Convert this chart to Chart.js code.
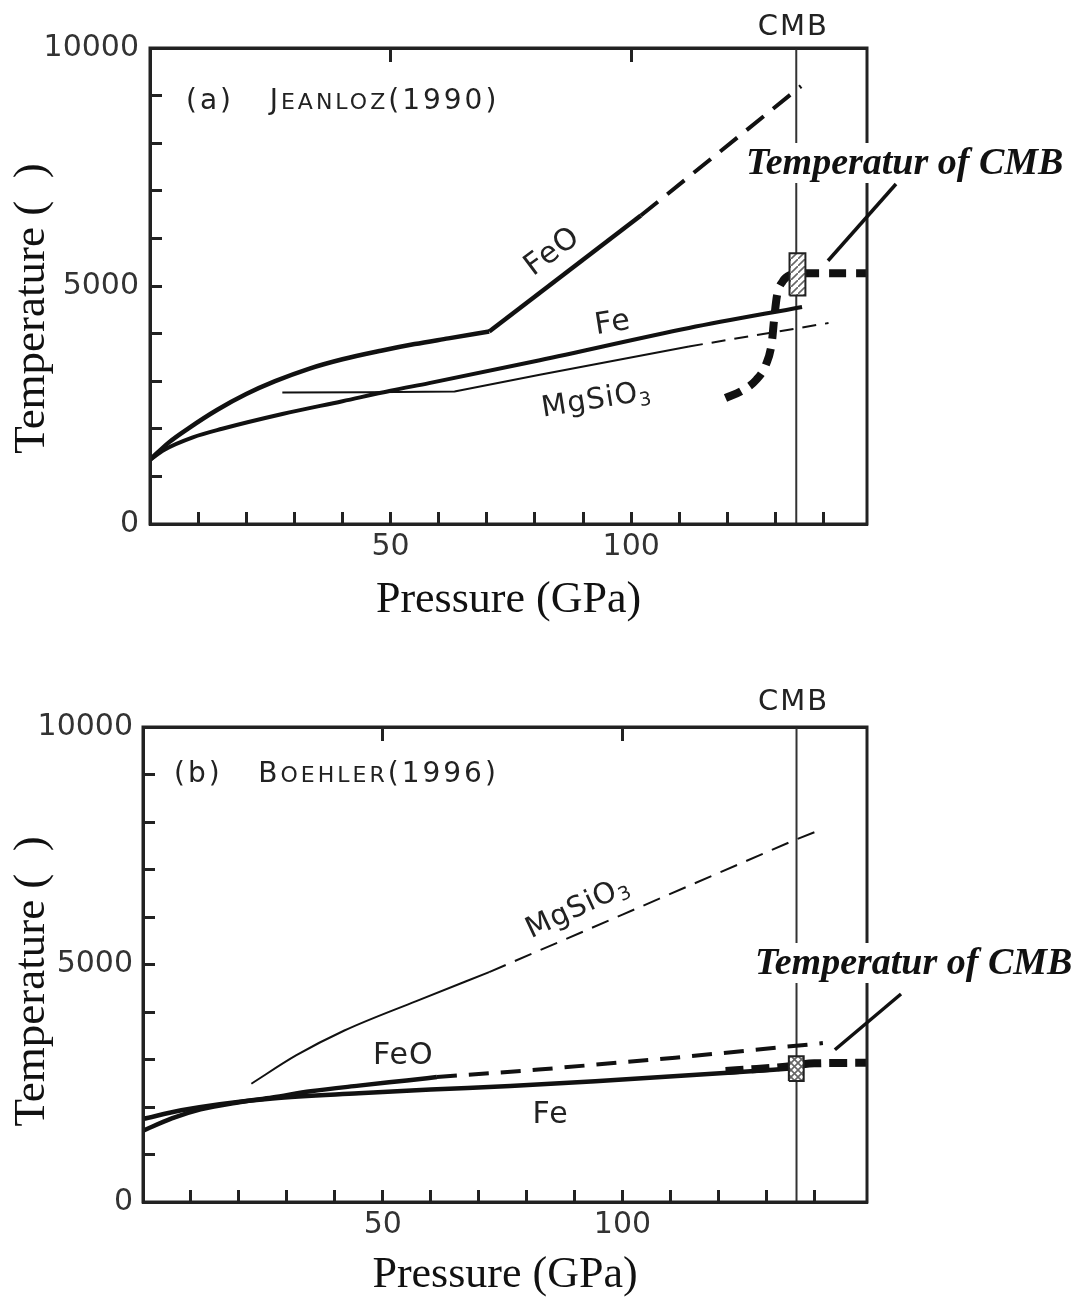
<!DOCTYPE html>
<html>
<head>
<meta charset="utf-8">
<script src="https://cdn.jsdelivr.net/npm/chart.js@4.4.1/dist/chart.umd.min.js"></script>
<style>
  body { margin: 0; background: #fff; }
  #wrap { position: relative; width: 1079px; height: 1302px; }
  canvas { position: absolute; left: 0; }
</style>
</head>
<body>
<div id="wrap">
  <canvas id="chartA" width="1079" height="650" style="top:0"></canvas>
  <canvas id="chartB" width="1079" height="652" style="top:650px"></canvas>
</div>
<script>
// shared axis ticks
const pressureTicks = [0, 10, 20, 30, 40, 50, 60, 70, 80, 90, 100, 110, 120, 130, 140];
const pressureLabels = [50, 100];
const topTicks = [50, 100];
const tempTicks = [0, 1000, 2000, 3000, 4000, 5000, 6000, 7000, 8000, 9000, 10000];
const tempLabels = [0, 5000, 10000];

// (a) Jeanloz (1990)
const aFeO_P = [0, 4, 8, 14, 20, 26, 33, 40, 48, 55, 62, 70.5];
const aFeO_T = [1350, 1720, 2010, 2400, 2730, 3000, 3260, 3460, 3640, 3780, 3900, 4045];
const aFeOSteep_P = [70.5, 102];
const aFeOSteep_T = [4045, 6480];
const aFeODash_P = [102, 135.3];
const aFeODash_T = [6480, 9200];
const aFe_P = [0, 3, 8.9, 15, 27.5, 40, 50, 58, 81, 112, 135.5];
const aFe_T = [1350, 1560, 1820, 2000, 2310, 2580, 2800, 2960, 3440, 4118, 4560];
const aMg_P = [27.5, 45, 63.3, 81, 112];
const aMg_T = [2760, 2770, 2785, 3135, 3730];
const aMgDash_P = [112, 141];
const aMgDash_T = [3730, 4222];
const aGeo_P = [119.6, 123, 126, 128, 129.2, 129.7, 130.3, 131.5, 133, 135.5, 149];
const aGeo_T = [2647, 2800, 3030, 3350, 3800, 4300, 4800, 5100, 5230, 5270, 5270];
const aBox_P = [132.9, 136.2];
const aBox_T = [4800, 5690];
const aCMB = 134.3;

// (b) Boehler (1996)
const bFeO_P = [0, 6, 12, 20, 27, 35, 45, 55, 61.3];
const bFeO_T = [1500, 1760, 1950, 2100, 2200, 2330, 2450, 2560, 2630];
const bFeODash_P = [61.3, 82.5, 111, 141.8];
const bFeODash_T = [2630, 2787, 3037, 3345];
const bFe_P = [0, 8, 16, 27, 45, 60, 76.6, 100, 122, 136.3];
const bFe_T = [1750, 1930, 2060, 2180, 2290, 2370, 2440, 2580, 2720, 2820];
const bMg_P = [22.6, 32, 42, 57, 72.2];
const bMg_T = [2490, 3090, 3610, 4230, 4840];
const bMgDash_P = [72.2, 100, 136.3, 141.7];
const bMgDash_T = [4840, 6050, 7637, 7850];
const bGeo_P = [121.5, 128, 134, 140, 151];
const bGeo_T = [2760, 2800, 2850, 2920, 2930];
const bBox_P = [134.7, 137.8];
const bBox_T = [2550, 3070];
const bCMB = 136.3;

const ink = '#111';

function pts(ps, ts) {
  return ps.map((p, i) => ({ x: p, y: ts[i] }));
}

function curve(data, width, dash, smooth) {
  return {
    data: data,
    showLine: true,
    borderColor: ink,
    backgroundColor: 'transparent',
    borderWidth: width,
    borderDash: dash || [],
    borderCapStyle: 'butt',
    pointRadius: 0,
    fill: false,
    tension: 0,
    cubicInterpolationMode: smooth ? 'monotone' : 'default',
    order: 1
  };
}

function boxSet(ps, ts, pattern) {
  return {
    data: pts([ps[0], ps[1], ps[1], ps[0], ps[0]], [ts[0], ts[0], ts[1], ts[1], ts[0]]),
    showLine: true,
    borderColor: '#222',
    borderWidth: 2,
    backgroundColor: pattern,
    fill: 'shape',
    pointRadius: 0,
    tension: 0,
    order: 0
  };
}

function vline(p) {
  return {
    data: pts([p, p], [0, 10000]),
    showLine: true,
    borderColor: '#333',
    borderWidth: 2,
    pointRadius: 0,
    fill: false,
    order: 3
  };
}

function hatch(ctx, cross) {
  const c = document.createElement('canvas');
  c.width = 7; c.height = 7;
  const g = c.getContext('2d');
  g.fillStyle = '#fff';
  g.fillRect(0, 0, 7, 7);
  g.strokeStyle = '#666';
  g.lineWidth = 1.6;
  g.beginPath();
  g.moveTo(-1, 8); g.lineTo(8, -1);
  if (cross) { g.moveTo(-1, -1); g.lineTo(8, 8); }
  g.stroke();
  return ctx.createPattern(c, 'repeat');
}

function drawRuns(ctx, runs, x, y, rot, align, spacing) {
  ctx.save();
  ctx.translate(x, y);
  ctx.rotate(rot * Math.PI / 180);
  ctx.letterSpacing = (spacing || 0) + 'px';
  let total = 0;
  let maxSize = 0;
  const widths = runs.map(r => {
    ctx.font = r[1] + 'px "DejaVu Sans"';
    const w = ctx.measureText(r[0]).width;
    total += w;
    maxSize = Math.max(maxSize, r[1]);
    return w;
  });
  let cx = align === 'center' ? -total / 2 : 0;
  const base = maxSize * 0.36;
  ctx.textAlign = 'left';
  ctx.textBaseline = 'alphabetic';
  ctx.fillStyle = '#222';
  runs.forEach((r, i) => {
    ctx.font = r[1] + 'px "DejaVu Sans"';
    ctx.fillText(r[0], cx, base + (r[2] || 0));
    cx += widths[i];
  });
  ctx.restore();
}

function decor(spec) {
  return {
    id: 'decor',
    afterDraw(chart) {
      const { ctx, chartArea: a } = chart;
      const sx = chart.scales.x, sy = chart.scales.y;
      ctx.save();
      ctx.strokeStyle = '#222';
      ctx.lineWidth = 3;
      ctx.strokeRect(a.left, a.top, a.right - a.left, a.bottom - a.top);

      ctx.fillStyle = '#222';
      ctx.font = '29px "DejaVu Sans"';
      ctx.letterSpacing = '2px';
      ctx.textAlign = 'center';
      ctx.textBaseline = 'middle';
      ctx.fillText('CMB', sx.getPixelForValue(spec.cmb) - 3, a.top + spec.cmbDy);
      ctx.letterSpacing = '0px';

      drawRuns(ctx, spec.title, a.left + spec.titleDx, a.top + spec.titleDy, 0, 'left', 3);
      spec.labels.forEach(l => drawRuns(ctx, l.runs, sx.getPixelForValue(l.p), sy.getPixelForValue(l.t), l.rot, 'center', 1));

      const c = spec.callout;
      ctx.font = 'italic bold 38px "Liberation Serif"';
      const w = ctx.measureText(c.text).width;
      ctx.fillStyle = '#fff';
      ctx.fillRect(c.x - 4, c.y - 20, w + 8, 40);
      ctx.fillStyle = ink;
      ctx.textAlign = 'left';
      ctx.textBaseline = 'middle';
      ctx.fillText(c.text, c.x, c.y + 1);
      ctx.strokeStyle = ink;
      ctx.lineWidth = 3.5;
      ctx.beginPath();
      ctx.moveTo(c.fromX, c.fromY);
      ctx.lineTo(sx.getPixelForValue(c.toP), sy.getPixelForValue(c.toT));
      ctx.stroke();
      ctx.restore();
    }
  };
}

function axes(o) {
  const tickFont = { family: 'DejaVu Sans', size: 30 };
  return {
    x: {
      type: 'linear', position: 'bottom', min: 0, max: o.xMax,
      afterBuildTicks: s => { s.ticks = pressureTicks.map(v => ({ value: v })); },
      afterFit: s => { s.height = o.xHeight; },
      ticks: {
        autoSkip: false, maxRotation: 0, padding: 17, color: '#333', font: tickFont,
        callback: v => pressureLabels.includes(v) ? String(v) : ''
      },
      grid: { drawOnChartArea: false, drawTicks: true, tickLength: -12, tickWidth: 3, tickColor: '#222' },
      border: { display: true, color: '#222', width: 3 },
      title: {
        display: true, text: 'Pressure (GPa)', color: ink,
        font: { family: 'Liberation Serif', size: 44 },
        padding: { top: 0, bottom: o.xTitlePad }
      }
    },
    x2: {
      type: 'linear', position: 'top', min: 0, max: o.xMax,
      afterBuildTicks: s => { s.ticks = topTicks.map(v => ({ value: v })); },
      afterFit: s => { s.height = 0; },
      ticks: { display: false },
      grid: { drawOnChartArea: false, drawTicks: true, tickLength: -14, tickWidth: 3, tickColor: '#222' },
      border: { display: true, color: '#222', width: 3 }
    },
    y: {
      type: 'linear', min: 0, max: 10000,
      afterBuildTicks: s => { s.ticks = tempTicks.map(v => ({ value: v })); },
      afterFit: s => { s.width = o.yWidth; },
      ticks: {
        autoSkip: false, padding: o.yTickPad, color: '#333', font: tickFont,
        callback: v => tempLabels.includes(v) ? String(v) : ''
      },
      grid: { drawOnChartArea: false, drawTicks: true, tickLength: -12, tickWidth: 3, tickColor: '#222' },
      border: { display: true, color: '#222', width: 3 },
      title: {
        display: true, text: o.yTitle, color: ink,
        font: { family: 'Liberation Serif', size: 45 },
        padding: { top: 5, bottom: 0 }
      }
    }
  };
}

const ctxA = document.getElementById('chartA').getContext('2d');
const ctxB = document.getElementById('chartB').getContext('2d');

new Chart(ctxA, {
  type: 'scatter',
  data: {
    datasets: [
      boxSet(aBox_P, aBox_T, hatch(ctxA, false)),
      curve(pts(aFeO_P, aFeO_T), 4.5, null, true),
      curve(pts(aFeOSteep_P, aFeOSteep_T), 4.5),
      curve(pts(aFeODash_P, aFeODash_T), 4, [22, 12]),
      curve(pts(aFe_P, aFe_T), 4, null, true),
      curve(pts(aMg_P, aMg_T), 2),
      curve(pts(aMgDash_P, aMgDash_T), 2, [14, 9]),
      curve(pts(aGeo_P, aGeo_T), 8, [17, 10], true),
      vline(aCMB)
    ]
  },
  options: {
    responsive: false,
    animation: false,
    layout: { padding: { left: 0, top: 48, right: 212, bottom: 0 } },
    plugins: { legend: { display: false }, tooltip: { enabled: false } },
    scales: axes({ xMax: 149, xHeight: 126, xTitlePad: 23, yWidth: 150, yTickPad: 23, yTitle: 'Temperature (  )    ' })
  },
  plugins: [decor({
    cmb: aCMB, cmbDy: -21,
    title: [['(a)', 28], ['   ', 28], ['J', 28], ['EANLOZ', 22], ['(1990)', 28]],
    titleDx: 36, titleDy: 51,
    labels: [
      { runs: [['FeO', 30]], p: 83.3, t: 5762, rot: -37 },
      { runs: [['Fe', 30]], p: 96.1, t: 4271, rot: -9 },
      { runs: [['MgSiO', 29], ['3', 19, 5]], p: 92.7, t: 2654, rot: -9 }
    ],
    callout: { text: 'Temperatur of CMB', x: 746, y: 163, fromX: 896, fromY: 184, toP: 140.9, toT: 5531 }
  })]
});

new Chart(ctxB, {
  type: 'scatter',
  data: {
    datasets: [
      boxSet(bBox_P, bBox_T, hatch(ctxB, true)),
      curve(pts(bFeO_P, bFeO_T), 4.5, null, true),
      curve(pts(bFeODash_P, bFeODash_T), 4, [20, 12]),
      curve(pts(bFe_P, bFe_T), 4.5, null, true),
      curve(pts(bMg_P, bMg_T), 2, null, true),
      curve(pts(bMgDash_P, bMgDash_T), 2, [18, 10]),
      curve(pts(bGeo_P, bGeo_T), 8, [18, 8], true),
      vline(bCMB)
    ]
  },
  options: {
    responsive: false,
    animation: false,
    layout: { padding: { left: 0, top: 77, right: 212, bottom: 0 } },
    plugins: { legend: { display: false }, tooltip: { enabled: false } },
    scales: axes({ xMax: 151, xHeight: 100, xTitlePad: 0, yWidth: 143, yTickPad: 22, yTitle: 'Temperature (  )   ' })
  },
  plugins: [decor({
    cmb: bCMB, cmbDy: -25,
    title: [['(b)', 28], ['   ', 28], ['B', 28], ['OEHLER', 22], ['(1996)', 28]],
    titleDx: 31, titleDy: 45,
    labels: [
      { runs: [['MgSiO', 29], ['3', 19, 5]], p: 90.5, t: 6242, rot: -25 },
      { runs: [['FeO', 30]], p: 54.3, t: 3132, rot: 0 },
      { runs: [['Fe', 30]], p: 85, t: 1900, rot: 0 }
    ],
    callout: { text: 'Temperatur of CMB', x: 755, y: 313, fromX: 901, fromY: 344, toP: 144.3, toT: 3205 }
  })]
});
</script>
</body>
</html>
